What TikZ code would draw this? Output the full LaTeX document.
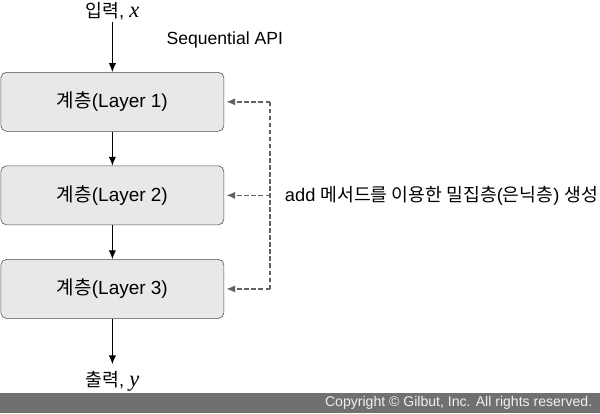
\documentclass[tikz,border=0pt]{standalone}
\usepackage{fontspec}
\setmainfont{Liberation Sans}
\newfontfamily\kr{Noto Sans CJK KR}
\newfontfamily\varfont{Liberation Serif}
\newcommand{\var}[1]{{\varfont\itshape\fontsize{16}{16}\selectfont #1}}
\usetikzlibrary{arrows.meta,positioning}

\begin{document}
\begin{tikzpicture}[
    layer/.style={draw=black!70, fill=black!9, rounded corners=4pt,
        minimum width=5.575cm, minimum height=1.475cm, inner sep=0pt,
        font=\fontsize{13.5}{15}\selectfont},
    flow/.style={-{Latex[length=2.2mm,width=1.8mm]}, line width=0.6pt},
    addline/.style={dash pattern=on 3.2pt off 1.8pt, draw=black!62, line width=1pt},
    addflow/.style={addline, -{Latex[length=2.2mm,width=1.8mm]}},
    io/.style={font=\fontsize{13}{15}\selectfont},
]
    \useasboundingbox (0, 0) rectangle (15, 10.325);

    % input and title
    \node[io] (in) at (2.81, 10.05) {{\kr 입력}, \var{x}};
    \node[font=\fontsize{12.5}{14}\selectfont] (title) at (5.62, 9.33) {Sequential API};

    % the three layers
    \node[layer] (layer1) at (2.81, 7.78) {{\kr 계층}(Layer 1)};
    \node[layer, below=0.85cm of layer1] (layer2) {{\kr 계층}(Layer 2)};
    \node[layer, below=0.85cm of layer2] (layer3) {{\kr 계층}(Layer 3)};

    \node[io] (out) at (2.81, 0.8) {{\kr 출력}, \var{y}};
    \coordinate (outtip) at (2.81, 1.22);
    \coordinate (intop) at (2.81, 9.78);

    \draw[flow] (intop) -- (layer1);
    \draw[flow] (layer1) -- (layer2);
    \draw[flow] (layer2) -- (layer3);
    \draw[flow] (layer3) -- (outtip);

    % add() lines
    \coordinate (add1) at (6.75, 0 |- layer1.east);
    \coordinate (add2) at (6.75, 0 |- layer2.east);
    \coordinate (add3) at (6.75, 0 |- layer3.east);
    \draw[addline] (add1) -- (add3);
    \draw[addflow] (add1) -- ([xshift=1.5pt]layer1.east);
    \draw[addflow] (add2) -- ([xshift=1.5pt]layer2.east);
    \draw[addflow] (add3) -- ([xshift=1.5pt]layer3.east);
    \node[anchor=west, font=\fontsize{13}{15}\selectfont] (addtext) at (7.0, 0 |- layer2.east)
        {add {\kr 메서드를 이용한 밀집층}({\kr 은닉층}) {\kr 생성}};

    % footer
    \fill[black!56] (0, 0) rectangle (15, 0.5);
    \node[anchor=east, text=black!6, font=\fontsize{10}{11}\selectfont] (copy) at (14.93, 0.25)
        {Copyright © Gilbut, Inc. All rights reserved.};
\end{tikzpicture}
\end{document}
